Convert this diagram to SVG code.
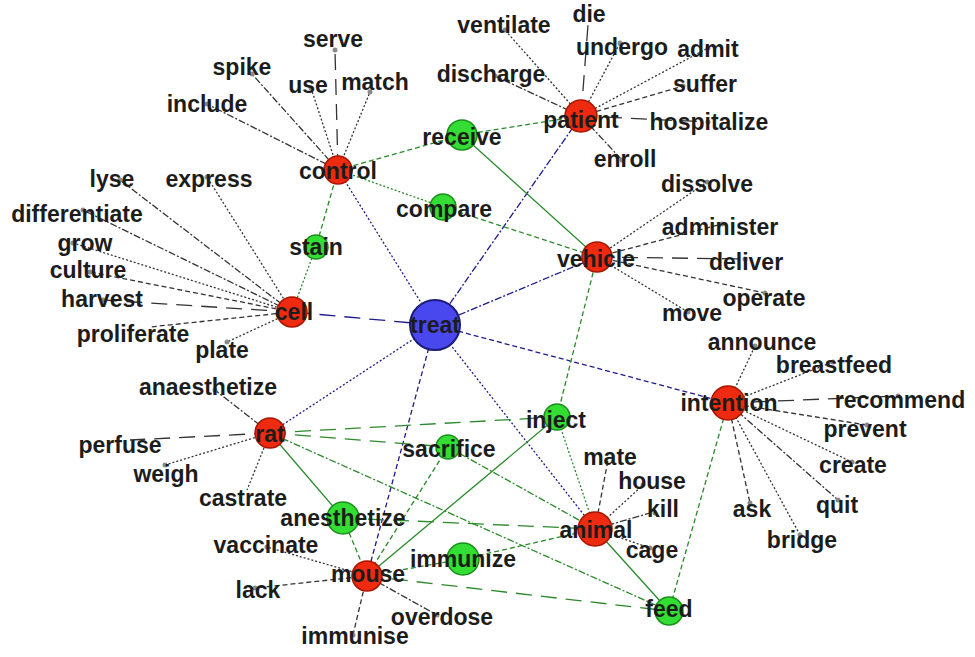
<svg xmlns="http://www.w3.org/2000/svg" width="975" height="657" viewBox="0 0 975 657">
<style>
text{font-family:"Liberation Sans",Arial,sans-serif;font-weight:bold;font-size:23px;fill:#1c1c1c;text-anchor:middle}
line{fill:none;stroke-width:1.3}
.k{stroke:#333}
.b{stroke:#1c1c8c}
.g{stroke:#2a8a2a}
.dot{stroke-dasharray:2 2}
.dsh{stroke-dasharray:5 3}
.lng{stroke-dasharray:16 9}
.dd{stroke-dasharray:7 2 2 2}
.sol{stroke-dasharray:none}
.red{fill:#ee2a10;stroke:#a81500;stroke-width:1.5}
.grn{fill:#33dd33;stroke:#1a901a;stroke-width:1.5}
.blu{fill:#4848ee;stroke:#1c1c7a;stroke-width:2}
.leaf{fill:#8a8a8a}
</style>
<rect width="975" height="657" fill="#fff"/>
<g id="connectors">
<!-- treat edges -->
<line class="b dot" x1="435" y1="325" x2="338" y2="170"/>
<line class="b dd" x1="435" y1="325" x2="581" y2="116"/>
<line class="b dd" x1="435" y1="325" x2="597" y2="257"/>
<line class="b lng" x1="435" y1="325" x2="292" y2="312"/>
<line class="b dsh" x1="435" y1="325" x2="728" y2="403"/>
<line class="b dot" x1="435" y1="325" x2="270" y2="433"/>
<line class="b dsh" x1="435" y1="325" x2="367" y2="576"/>
<line class="b dot" x1="435" y1="325" x2="595" y2="529"/>
<!-- green edges -->
<line class="g dsh" x1="338" y1="170" x2="462" y2="135"/>
<line class="g dsh" x1="462" y1="135" x2="581" y2="116"/>
<line class="g dot" x1="338" y1="170" x2="443" y2="207"/>
<line class="g dsh" x1="443" y1="207" x2="597" y2="257"/>
<line class="g" x1="462" y1="135" x2="597" y2="257"/>
<line class="g dsh" x1="338" y1="170" x2="316" y2="247"/>
<line class="g dot" x1="316" y1="247" x2="292" y2="312"/>
<line class="g dsh" x1="597" y1="257" x2="557" y2="417"/>
<line class="g lng" x1="270" y1="433" x2="557" y2="417"/>
<line class="g lng" x1="270" y1="433" x2="448" y2="447"/>
<line class="g" x1="270" y1="433" x2="343" y2="518"/>
<line class="g dd" x1="270" y1="433" x2="669" y2="611"/>
<line class="g dsh" x1="343" y1="518" x2="367" y2="576"/>
<line class="g dsh" x1="448" y1="447" x2="367" y2="576"/>
<line class="g" x1="557" y1="417" x2="367" y2="576"/>
<line class="g dsh" x1="463" y1="559" x2="367" y2="576"/>
<line class="g lng" x1="367" y1="576" x2="669" y2="611"/>
<line class="g lng" x1="343" y1="518" x2="595" y2="529"/>
<line class="g dsh" x1="463" y1="559" x2="595" y2="529"/>
<line class="g dot" x1="557" y1="417" x2="595" y2="529"/>
<line class="g dd" x1="448" y1="447" x2="595" y2="529"/>
<line class="g" x1="595" y1="529" x2="669" y2="611"/>
<line class="g dsh" x1="728" y1="403" x2="669" y2="611"/>
<!-- control leaves -->
<line class="k dd" x1="338" y1="170" x2="252" y2="74"/>
<line class="k dd" x1="338" y1="170" x2="207" y2="104"/>
<line class="k dot" x1="338" y1="170" x2="311" y2="88"/>
<line class="k lng" x1="338" y1="170" x2="335" y2="50"/>
<line class="k dot" x1="338" y1="170" x2="370" y2="92"/>
<!-- cell leaves -->
<line class="k dd" x1="292" y1="312" x2="120" y2="180"/>
<line class="k dot" x1="292" y1="312" x2="207" y2="177"/>
<line class="k dd" x1="292" y1="312" x2="83" y2="210"/>
<line class="k dot" x1="292" y1="312" x2="73" y2="243"/>
<line class="k dsh" x1="292" y1="312" x2="90" y2="272"/>
<line class="k lng" x1="292" y1="312" x2="103" y2="300"/>
<line class="k dsh" x1="292" y1="312" x2="150" y2="327"/>
<line class="k dot" x1="292" y1="312" x2="227" y2="342"/>
<!-- patient leaves -->
<line class="k dot" x1="581" y1="116" x2="505" y2="30"/>
<line class="k lng" x1="581" y1="116" x2="588" y2="25"/>
<line class="k dot" x1="581" y1="116" x2="620" y2="43"/>
<line class="k dot" x1="581" y1="116" x2="708" y2="48"/>
<line class="k dsh" x1="581" y1="116" x2="683" y2="86"/>
<line class="k lng" x1="581" y1="116" x2="708" y2="122"/>
<line class="k dd" x1="581" y1="116" x2="622" y2="160"/>
<line class="k dd" x1="581" y1="116" x2="495" y2="76"/>
<!-- vehicle leaves -->
<line class="k dot" x1="597" y1="257" x2="707" y2="182"/>
<line class="k dsh" x1="597" y1="257" x2="722" y2="224"/>
<line class="k lng" x1="597" y1="257" x2="745" y2="259"/>
<line class="k dsh" x1="597" y1="257" x2="765" y2="293"/>
<line class="k dot" x1="597" y1="257" x2="688" y2="312"/>
<!-- intention leaves -->
<line class="k dot" x1="728" y1="403" x2="755" y2="346"/>
<line class="k dot" x1="728" y1="403" x2="833" y2="362"/>
<line class="k lng" x1="728" y1="403" x2="898" y2="396"/>
<line class="k dsh" x1="728" y1="403" x2="867" y2="425"/>
<line class="k dot" x1="728" y1="403" x2="852" y2="462"/>
<line class="k dd" x1="728" y1="403" x2="838" y2="500"/>
<line class="k dot" x1="728" y1="403" x2="800" y2="535"/>
<line class="k dsh" x1="728" y1="403" x2="750" y2="503"/>
<!-- animal leaves -->
<line class="k dsh" x1="595" y1="529" x2="608" y2="460"/>
<line class="k dot" x1="595" y1="529" x2="643" y2="485"/>
<line class="k dd" x1="595" y1="529" x2="650" y2="513"/>
<line class="k dot" x1="595" y1="529" x2="650" y2="548"/>
<!-- rat leaves -->
<line class="k dd" x1="270" y1="433" x2="215" y2="390"/>
<line class="k lng" x1="270" y1="433" x2="130" y2="440"/>
<line class="k dot" x1="270" y1="433" x2="165" y2="465"/>
<line class="k dot" x1="270" y1="433" x2="247" y2="490"/>
<!-- mouse leaves -->
<line class="k dot" x1="367" y1="576" x2="267" y2="547"/>
<line class="k dsh" x1="367" y1="576" x2="255" y2="588"/>
<line class="k dsh" x1="367" y1="576" x2="353" y2="635"/>
<line class="k dd" x1="367" y1="576" x2="437" y2="615"/>
</g>
<!-- hub nodes -->
<g id="treat"><circle class="blu" cx="435" cy="325" r="25"/><text x="435" y="333">treat</text></g>
<g id="control"><circle class="red" cx="338" cy="170" r="14"/><text x="338" y="179">control</text></g>
<g id="patient"><circle class="red" cx="581" cy="116" r="16"/><text x="581" y="128">patient</text></g>
<g id="vehicle"><circle class="red" cx="597" cy="257" r="15"/><text x="596" y="267">vehicle</text></g>
<g id="cell"><circle class="red" cx="292" cy="312" r="15"/><text x="294" y="320">cell</text></g>
<g id="rat"><circle class="red" cx="270" cy="433" r="15"/><text x="270" y="442">rat</text></g>
<g id="mouse"><circle class="red" cx="367" cy="576" r="15"/><text x="368" y="582">mouse</text></g>
<g id="animal"><circle class="red" cx="595" cy="529" r="17"/><text x="596" y="538">animal</text></g>
<g id="intention"><circle class="red" cx="728" cy="403" r="17"/><text x="729" y="411">intention</text></g>
<g id="receive"><circle class="grn" cx="462" cy="135" r="15"/><text x="462" y="145">receive</text></g>
<g id="compare"><circle class="grn" cx="443" cy="207" r="13"/><text x="444" y="217">compare</text></g>
<g id="stain"><circle class="grn" cx="316" cy="247" r="12"/><text x="316" y="255">stain</text></g>
<g id="inject"><circle class="grn" cx="557" cy="417" r="13"/><text x="556" y="428">inject</text></g>
<g id="sacrifice"><circle class="grn" cx="448" cy="447" r="12"/><text x="449" y="457">sacrifice</text></g>
<g id="anesthetize"><circle class="grn" cx="343" cy="518" r="16"/><text x="343" y="526">anesthetize</text></g>
<g id="immunize"><circle class="grn" cx="463" cy="559" r="16"/><text x="463" y="567">immunize</text></g>
<g id="feed"><circle class="grn" cx="669" cy="611" r="14"/><text x="669" y="617">feed</text></g>
<!-- leaf nodes -->
<g id="spike"><circle class="leaf" cx="252" cy="74" r="2.5"/><text x="242" y="75">spike</text></g>
<g id="include"><circle class="leaf" cx="207" cy="104" r="2.5"/><text x="207" y="112">include</text></g>
<g id="use"><circle class="leaf" cx="311" cy="88" r="2.5"/><text x="308" y="93">use</text></g>
<g id="serve"><circle class="leaf" cx="335" cy="50" r="2.5"/><text x="333" y="47">serve</text></g>
<g id="match"><circle class="leaf" cx="370" cy="92" r="2.5"/><text x="375" y="90">match</text></g>
<g id="lyse"><circle class="leaf" cx="120" cy="180" r="2.5"/><text x="112" y="187">lyse</text></g>
<g id="express"><circle class="leaf" cx="207" cy="177" r="2.5"/><text x="209" y="187">express</text></g>
<g id="differentiate"><circle class="leaf" cx="83" cy="210" r="2.5"/><text x="77" y="222">differentiate</text></g>
<g id="grow"><circle class="leaf" cx="73" cy="243" r="2.5"/><text x="85" y="251">grow</text></g>
<g id="culture"><circle class="leaf" cx="90" cy="272" r="2.5"/><text x="88" y="278">culture</text></g>
<g id="harvest"><circle class="leaf" cx="103" cy="300" r="2.5"/><text x="102" y="307">harvest</text></g>
<g id="proliferate"><text x="133" y="342">proliferate</text></g>
<g id="plate"><circle class="leaf" cx="227" cy="342" r="2.5"/><text x="222" y="358">plate</text></g>
<g id="ventilate"><circle class="leaf" cx="505" cy="30" r="2.5"/><text x="504" y="33">ventilate</text></g>
<g id="die"><text x="589" y="22">die</text></g>
<g id="undergo"><circle class="leaf" cx="620" cy="43" r="2.5"/><text x="622" y="55">undergo</text></g>
<g id="admit"><circle class="leaf" cx="708" cy="48" r="2.5"/><text x="708" y="57">admit</text></g>
<g id="discharge"><circle class="leaf" cx="495" cy="76" r="2.5"/><text x="491" y="82">discharge</text></g>
<g id="suffer"><circle class="leaf" cx="683" cy="86" r="2.5"/><text x="705" y="92">suffer</text></g>
<g id="hospitalize"><circle class="leaf" cx="708" cy="122" r="2.5"/><text x="709" y="130">hospitalize</text></g>
<g id="enroll"><circle class="leaf" cx="622" cy="160" r="2.5"/><text x="625" y="167">enroll</text></g>
<g id="dissolve"><circle class="leaf" cx="707" cy="182" r="2.5"/><text x="707" y="192">dissolve</text></g>
<g id="administer"><circle class="leaf" cx="722" cy="224" r="2.5"/><text x="720" y="235">administer</text></g>
<g id="deliver"><circle class="leaf" cx="745" cy="259" r="2.5"/><text x="746" y="270">deliver</text></g>
<g id="operate"><circle class="leaf" cx="765" cy="293" r="2.5"/><text x="764" y="306">operate</text></g>
<g id="move"><circle class="leaf" cx="688" cy="312" r="2.5"/><text x="692" y="321">move</text></g>
<g id="announce"><circle class="leaf" cx="755" cy="346" r="2.5"/><text x="762" y="350">announce</text></g>
<g id="breastfeed"><circle class="leaf" cx="833" cy="362" r="2.5"/><text x="834" y="373">breastfeed</text></g>
<g id="recommend"><circle class="leaf" cx="898" cy="396" r="2.5"/><text x="900" y="408">recommend</text></g>
<g id="prevent"><circle class="leaf" cx="867" cy="425" r="2.5"/><text x="865" y="437">prevent</text></g>
<g id="create"><circle class="leaf" cx="852" cy="462" r="2.5"/><text x="853" y="473">create</text></g>
<g id="quit"><circle class="leaf" cx="838" cy="500" r="2.5"/><text x="837" y="513">quit</text></g>
<g id="bridge"><circle class="leaf" cx="800" cy="535" r="2.5"/><text x="802" y="548">bridge</text></g>
<g id="ask"><circle class="leaf" cx="750" cy="503" r="2.5"/><text x="752" y="517">ask</text></g>
<g id="mate"><text x="610" y="465">mate</text></g>
<g id="house"><circle class="leaf" cx="643" cy="485" r="2.5"/><text x="652" y="489">house</text></g>
<g id="kill"><circle class="leaf" cx="655" cy="513" r="2.5"/><text x="663" y="517">kill</text></g>
<g id="cage"><circle class="leaf" cx="650" cy="548" r="2.5"/><text x="652" y="558">cage</text></g>
<g id="anaesthetize"><circle class="leaf" cx="215" cy="390" r="2.5"/><text x="208" y="395">anaesthetize</text></g>
<g id="perfuse"><text x="120" y="453">perfuse</text></g>
<g id="weigh"><circle class="leaf" cx="165" cy="465" r="2.5"/><text x="166" y="482">weigh</text></g>
<g id="castrate"><text x="243" y="506">castrate</text></g>
<g id="vaccinate"><circle class="leaf" cx="267" cy="547" r="2.5"/><text x="266" y="553">vaccinate</text></g>
<g id="lack"><circle class="leaf" cx="255" cy="588" r="2.5"/><text x="258" y="598">lack</text></g>
<g id="immunise"><circle class="leaf" cx="353" cy="635" r="2.5"/><text x="355" y="644">immunise</text></g>
<g id="overdose"><circle class="leaf" cx="437" cy="615" r="2.5"/><text x="442" y="625">overdose</text></g>
</svg>
